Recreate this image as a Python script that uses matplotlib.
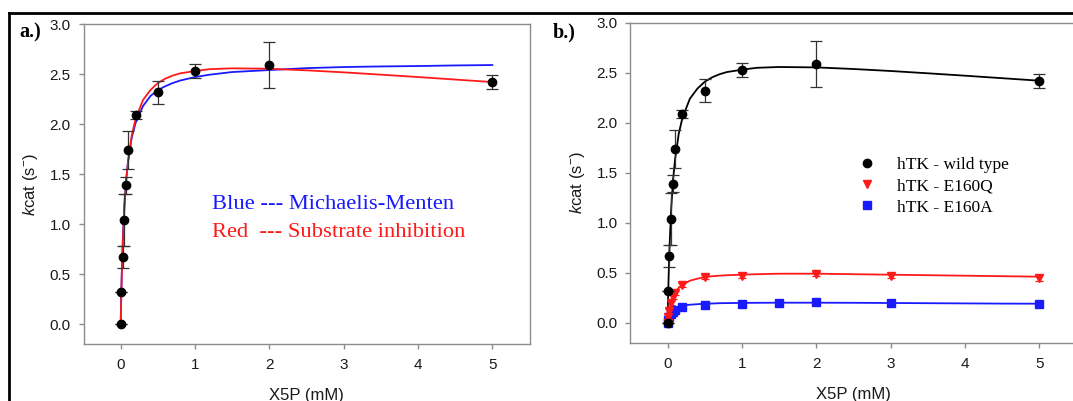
import matplotlib
matplotlib.use("Agg")
import matplotlib.pyplot as plt
from matplotlib.lines import Line2D

plt.rcParams['font.family'] = ['Liberation Sans', 'DejaVu Sans']
plt.rcParams['mathtext.fontset'] = 'custom'
plt.rcParams['mathtext.rm'] = 'Liberation Sans'
plt.rcParams['mathtext.it'] = 'Liberation Sans:italic'
plt.rcParams['mathtext.sf'] = 'Liberation Sans'

# ---- data: wild type (both panels) ----
wt_x = [0, 0.01, 0.025, 0.05, 0.075, 0.1, 0.2, 0.5, 1, 2, 5]
wt_y = [0.0, 0.32, 0.67, 1.04, 1.39, 1.74, 2.09, 2.32, 2.53, 2.59, 2.42]
wt_err = [0.0, 0.0, 0.11, 0.26, 0.085, 0.19, 0.04, 0.115, 0.07, 0.23, 0.07]

# ---- fitted curves ----
fit_x = [0, 0.01, 0.02, 0.03, 0.05, 0.075, 0.1, 0.15, 0.2, 0.3, 0.4, 0.5, 0.6,
         0.7, 0.8, 1, 1.2, 1.5, 2, 2.5, 3, 3.5, 4, 4.5, 5]
mm_fit = [0, 0.37, 0.65, 0.87, 1.19, 1.46, 1.63, 1.87, 2.01, 2.18, 2.28, 2.34, 2.378,
          2.41, 2.435, 2.47, 2.494, 2.52, 2.54, 2.559, 2.57, 2.576, 2.58, 2.586, 2.59]
si_fit = [0, 0.35, 0.62, 0.83, 1.16, 1.44, 1.63, 1.89, 2.05, 2.24, 2.34, 2.41, 2.454,
          2.485, 2.507, 2.53, 2.549, 2.557, 2.553, 2.537, 2.517, 2.494, 2.47, 2.445, 2.42]

# ---- mutants (panel b) ----
q_x = [0, 0.01, 0.025, 0.05, 0.075, 0.1, 0.2, 0.5, 1, 2, 3, 5]
q_y = [0.0, 0.06, 0.12, 0.20, 0.26, 0.30, 0.38, 0.46, 0.47, 0.49, 0.47, 0.45]
q_err = [0.0, 0.01, 0.02, 0.02, 0.02, 0.02, 0.02, 0.02, 0.02, 0.02, 0.02, 0.03]
q_fit = [0, 0.06, 0.11, 0.15, 0.21, 0.26, 0.30, 0.35, 0.38, 0.42, 0.44, 0.455, 0.465,
         0.47, 0.475, 0.48, 0.485, 0.49, 0.49, 0.485, 0.48, 0.475, 0.47, 0.465, 0.46]

a_x = [0, 0.01, 0.025, 0.05, 0.075, 0.1, 0.2, 0.5, 1, 1.5, 2, 3, 5]
a_y = [0.0, 0.03, 0.06, 0.09, 0.11, 0.13, 0.16, 0.175, 0.19, 0.197, 0.205, 0.20, 0.187]
a_fit = [0, 0.03, 0.055, 0.075, 0.10, 0.125, 0.14, 0.16, 0.17, 0.18, 0.185, 0.19, 0.192,
         0.195, 0.196, 0.198, 0.199, 0.20, 0.20, 0.199, 0.197, 0.195, 0.193, 0.191, 0.19]

x_ticks = [0, 1, 2, 3, 4, 5]
y_ticks = [0.0, 0.5, 1.0, 1.5, 2.0, 2.5, 3.0]
legend_labels = ['hTK - wild type', 'hTK - E160Q', 'hTK - E160A']

W, H = 1073, 401
fig = plt.figure(figsize=(W / 100, H / 100), dpi=100)

def px_axes(left, top, right, bottom):
    return fig.add_axes([left / W, 1 - bottom / H, (right - left) / W, (bottom - top) / H])

axA = px_axes(83.5, 24, 529.5, 344.3)
axB = px_axes(630.4, 22.7, 1076.6, 342.7)

spine_c = '#8c8c8c'
text_c = '#1a1a1a'
for ax in (axA, axB):
    ax.set_xlim(-0.5, 5.5)
    ax.set_ylim(-0.2, 3.0)
    ax.set_xticks(x_ticks)
    ax.set_yticks(y_ticks)
    ax.set_xticklabels([str(v) for v in x_ticks])
    ax.set_yticklabels(['%.1f' % v for v in y_ticks])
    for s in ax.spines.values():
        s.set_color(spine_c)
        s.set_linewidth(1.0)
    ax.tick_params(direction='out', length=3.6, width=1, color=spine_c,
                   labelsize=11, labelcolor=text_c)
    ax.tick_params(axis='x', pad=6.5)
    ax.tick_params(axis='y', pad=5.5)
    ax.set_xlabel('X5P (mM)', fontsize=12, color=text_c, va='top')
    ax.set_ylabel(r'$\it{k}$cat (s$^{\mathsf{-}}$)', fontsize=12, color=text_c)
    ax.yaxis.set_label_coords(-0.098, 0.5)
axA.xaxis.set_label_coords(0.5, -0.136)
axB.xaxis.set_label_coords(0.5, -0.1375)

# Panel a
axA.plot(fit_x, mm_fit, color='#1a1aff', lw=1.3, zorder=2)
axA.plot(fit_x, si_fit, color='#ff1a1a', lw=1.3, zorder=3)
axA.errorbar(wt_x, wt_y, yerr=wt_err, fmt='o', color='black', ms=6,
             ecolor='#333333', elinewidth=0.9, capsize=4.5, capthick=0.9, zorder=4)
axA.text(0.2875, 0.435, 'Blue --- Michaelis-Menten', transform=axA.transAxes,
         color='#1a1aff', fontsize=16.2, family='Liberation Serif', va='center', ha='left')
axA.text(0.2875, 0.349, 'Red  --- Substrate inhibition', transform=axA.transAxes,
         color='#ff1a1a', fontsize=16.2, family='Liberation Serif', va='center', ha='left')

# Panel b
axB.plot(fit_x, si_fit, color='black', lw=1.3, zorder=2)
axB.plot(fit_x, q_fit, color='#ff1a1a', lw=1.3, zorder=2)
axB.plot(fit_x, a_fit, color='#1a1aff', lw=1.3, zorder=2)
axB.errorbar(wt_x, wt_y, yerr=wt_err, fmt='o', color='black', ms=6,
             ecolor='#333333', elinewidth=0.9, capsize=4.5, capthick=0.9, zorder=4)
axB.errorbar(q_x, q_y, yerr=q_err, fmt='v', color='#ff1a1a', ms=6,
             ecolor='#ff1a1a', elinewidth=0.9, capsize=3, capthick=0.9, zorder=3)
axB.plot(a_x, a_y, 's', color='#1a1aff', ms=5.5, zorder=3)

h1 = Line2D([], [], marker='o', color='black', ls='none', ms=6)
h2 = Line2D([], [], marker='v', color='#ff1a1a', ls='none', ms=6)
h3 = Line2D([], [], marker='s', color='#1a1aff', ls='none', ms=5.5)
axB.legend([h1, h2, h3], legend_labels,
           loc='upper left', bbox_to_anchor=(0.4866, 0.603), frameon=False,
           prop={'family': 'Liberation Serif', 'size': 12.5},
           handletextpad=0.97, labelspacing=0.3, borderaxespad=0, handlelength=1.5)

# panel labels
fig.text(19.5 / W, 1 - 32 / H, 'a.)', fontsize=14.5, fontweight='bold',
         family='Liberation Serif', va='center', ha='left')
fig.text(552.5 / W, 1 - 32 / H, 'b.)', fontsize=14.5, fontweight='bold',
         family='Liberation Serif', va='center', ha='left')

# outer black frame
fig.add_artist(Line2D([9 / W, 1.0], [1 - 12.5 / H, 1 - 12.5 / H], color='black',
                      lw=2, transform=fig.transFigure))
fig.add_artist(Line2D([9.3 / W, 9.3 / W], [0, 1 - 12.5 / H], color='black',
                      lw=2, transform=fig.transFigure))

fig.savefig('out.png', dpi=100)
